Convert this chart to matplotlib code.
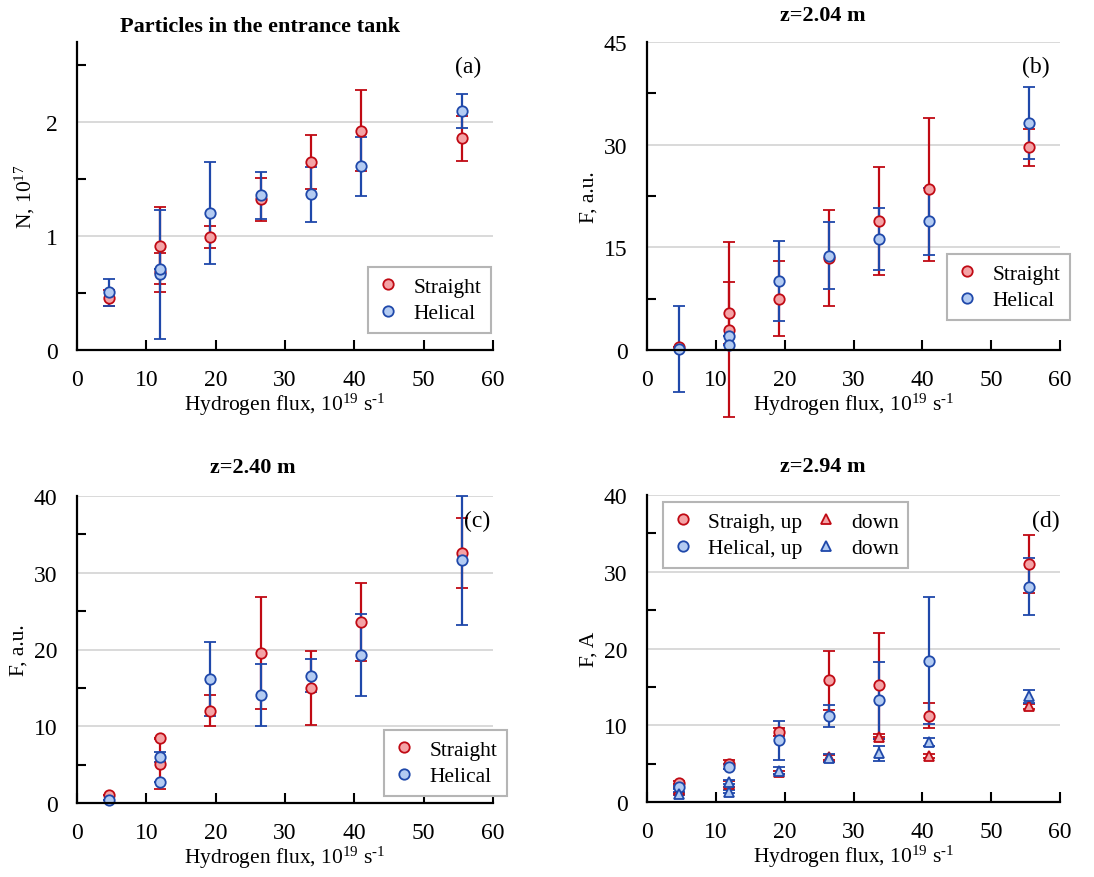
import matplotlib.pyplot as plt
from matplotlib.lines import Line2D
from matplotlib.ticker import MultipleLocator

plt.rcParams["font.family"] = ["Liberation Serif", "DejaVu Serif"]
plt.rcParams["mathtext.fontset"] = "custom"
plt.rcParams["mathtext.rm"] = "Liberation Serif"
plt.rcParams["mathtext.it"] = "Liberation Serif:italic"

# (a) particles in the entrance tank, 1e17
a_flux = [4.6, 11.9, 11.9, 19.2, 26.5, 33.7, 41.0, 55.5]
a_straight = [0.455, 0.915, 0.68, 0.99, 1.32, 1.65, 1.92, 1.855]
a_straight_err = [0.07, 0.335, 0.17, 0.10, 0.19, 0.235, 0.355, 0.20]
a_helical = [0.505, 0.665, 0.71, 1.20, 1.355, 1.365, 1.61, 2.095]
a_helical_err = [0.12, 0.565, 0.0, 0.45, 0.205, 0.24, 0.26, 0.15]

# (b) z = 2.04 m
b_flux = [4.6, 11.9, 11.9, 19.2, 26.5, 33.7, 41.0, 55.5]
b_straight = [0.4, 5.37, 2.95, 7.5, 13.45, 18.9, 23.45, 29.65]
b_straight_err = [0.0, 4.5, 12.8, 5.5, 7.05, 7.9, 10.4, 2.7]
b_helical = [0.15, 2.0, 0.8, 10.05, 13.8, 16.2, 18.8, 33.15]
b_helical_err = [6.35, 0.0, 0.0, 5.85, 4.95, 4.55, 4.9, 5.3]

# (c) z = 2.40 m
c_flux = [4.6, 11.9, 11.9, 19.2, 26.5, 33.7, 41.0, 55.5]
c_straight = [1.0, 8.45, 5.05, 12.05, 19.55, 15.0, 23.6, 32.55]
c_straight_err = [0.0, 0.0, 3.25, 2.05, 7.35, 4.8, 5.1, 4.6]
c_helical = [0.45, 6.0, 2.8, 16.15, 14.05, 16.55, 19.3, 31.65]
c_helical_err = [0.0, 0.6, 0.0, 4.8, 4.0, 2.15, 5.35, 8.4]

# (d) z = 2.94 m, up / down
d_flux = [4.6, 11.9, 19.2, 26.5, 33.7, 41.0, 55.5]
d_straight_up = [2.5, 4.9, 9.15, 15.85, 15.25, 11.25, 31.0]
d_straight_up_err = [0.2, 0.6, 0.5, 3.8, 6.8, 1.65, 3.8]
d_helical_up = [1.9, 4.6, 8.05, 11.2, 13.25, 18.4, 28.05]
d_helical_up_err = [0.2, 0.3, 2.55, 1.45, 5.0, 8.25, 3.7]
d_straight_down = [1.5, 2.3, 3.9, 5.8, 8.5, 6.0, 12.45]
d_straight_down_err = [0.3, 0.4, 0.2, 0.3, 0.3, 0.3, 0.3]
d_helical_down_flux = [4.6, 11.9, 11.9, 19.2, 26.5, 33.7, 41.0, 55.5]
d_helical_down = [1.1, 2.6, 1.35, 4.1, 5.7, 6.35, 7.85, 13.75]
d_helical_down_err = [0.2, 0.3, 0.2, 0.45, 0.5, 1.0, 0.5, 0.8]

RED, PINK = "#c00a14", "#f4a3a6"
BLUE, LIGHT = "#1f48aa", "#b3cbf2"
FS = 15.5
XLABEL = "Hydrogen flux, 10$^{\\mathrm{19}}$ s$^{\\mathrm{\u20101}}$"

W, H = 1094, 878
fig = plt.figure(figsize=(W / 100, H / 100), dpi=100)


def px(x, y):
    return x / W, 1 - y / H


def make_axes(left, top, right, bottom, ymax, major, minor):
    ax = fig.add_axes([left / W, 1 - bottom / H, (right - left) / W, (bottom - top) / H])
    ax.set_xlim(0, 60)
    ax.set_ylim(0, ymax)
    ax.xaxis.set_major_locator(MultipleLocator(10))
    ax.yaxis.set_major_locator(MultipleLocator(major))
    ax.yaxis.set_minor_locator(MultipleLocator(minor))
    ax.yaxis.set_minor_formatter(plt.NullFormatter())
    for side in ("top", "right"):
        ax.spines[side].set_visible(False)
    for side in ("left", "bottom"):
        ax.spines[side].set_linewidth(1.6)
    ax.tick_params(axis="x", direction="in", length=7, width=1.5, pad=14, labelsize=17)
    ax.tick_params(axis="y", which="major", length=0, pad=14, labelsize=17)
    ax.tick_params(axis="y", which="minor", direction="in", length=6.5, width=1.5)
    ax.grid(axis="y", color="#d3d3d3", linewidth=1.2)
    ax.set_axisbelow(True)
    ax.set_xlabel(XLABEL, fontsize=FS, labelpad=0)
    return ax


def points(ax, x, y, err, edge, face, marker="o", ms=7.5):
    cont = ax.errorbar(x, y, yerr=err, fmt=marker, ms=ms, mec=edge, mfc=face, mew=1.3,
                       ecolor=edge, elinewidth=1.6, capsize=4.5, capthick=1.6)
    for artist in cont.get_children():
        artist.set_clip_on(False)


def legend(ax, handles, labels, x, y, ncol=1):
    leg = ax.legend(handles, labels, loc="upper left", bbox_to_anchor=px(x, y),
                    bbox_transform=fig.transFigure, ncol=ncol, fontsize=FS,
                    fancybox=False, framealpha=1, edgecolor="#b5b5b5",
                    borderaxespad=0, handlelength=1.0, handletextpad=0.65,
                    labelspacing=0.3, columnspacing=0.6, borderpad=0.45)
    leg.get_frame().set_linewidth(1.5)


def circle(edge, face):
    return Line2D([], [], ls="none", marker="o", ms=7.5, mec=edge, mfc=face, mew=1.3)


def triangle(edge, face):
    return Line2D([], [], ls="none", marker="^", ms=6.5, mec=edge, mfc=face, mew=1.3)


def panel_tag(x, y, text):
    fig.text(*px(x, y), text, fontsize=17, ha="center", va="center")


# (a)
ax = make_axes(77, 43, 493, 351, 2.7, 1, 0.5)
points(ax, a_flux, a_straight, a_straight_err, RED, PINK)
points(ax, a_flux, a_helical, a_helical_err, BLUE, LIGHT)
ax.set_ylabel("N, 10$^{\\mathrm{17}}$", fontsize=FS, labelpad=6)
legend(ax, [circle(RED, PINK), circle(BLUE, LIGHT)], ["Straight", "Helical"], 368, 268)
fig.text(*px(260, 27), "Particles in the entrance tank", fontsize=16, fontweight="bold",
         ha="center", va="center")
panel_tag(468, 67, "(a)")

# (b)
ax = make_axes(647, 43, 1060, 351, 45, 15, 7.5)
points(ax, b_flux, b_straight, b_straight_err, RED, PINK)
points(ax, b_flux, b_helical, b_helical_err, BLUE, LIGHT)
ax.set_ylabel("F, a.u.", fontsize=FS, labelpad=4)
legend(ax, [circle(RED, PINK), circle(BLUE, LIGHT)], ["Straight", "Helical"], 947, 255)
fig.text(*px(823, 16), "z=2.04 m", fontsize=16, fontweight="bold", ha="center", va="center")
panel_tag(1036, 67, "(b)")

# (c)
ax = make_axes(77, 497, 493, 804, 40, 10, 5)
points(ax, c_flux, c_straight, c_straight_err, RED, PINK)
points(ax, c_flux, c_helical, c_helical_err, BLUE, LIGHT)
ax.set_ylabel("F, a.u.", fontsize=FS, labelpad=4)
legend(ax, [circle(RED, PINK), circle(BLUE, LIGHT)], ["Straight", "Helical"], 384, 731)
fig.text(*px(253, 468), "z=2.40 m", fontsize=16, fontweight="bold", ha="center", va="center")
panel_tag(477, 521, "(c)")

# (d)
ax = make_axes(647, 496, 1060, 803, 40, 10, 5)
points(ax, d_flux, d_straight_up, d_straight_up_err, RED, PINK)
points(ax, d_flux, d_straight_down, d_straight_down_err, RED, PINK, marker="^", ms=6.5)
points(ax, d_flux, d_helical_up, d_helical_up_err, BLUE, LIGHT)
points(ax, d_helical_down_flux, d_helical_down, d_helical_down_err, BLUE, LIGHT,
       marker="^", ms=6.5)
ax.set_ylabel("F, A", fontsize=FS, labelpad=4)
legend(ax, [circle(RED, PINK), circle(BLUE, LIGHT), triangle(RED, PINK), triangle(BLUE, LIGHT)],
       ["Straigh, up", "Helical, up", "down", "down"], 663, 503, ncol=2)
fig.text(*px(823, 467), "z=2.94 m", fontsize=16, fontweight="bold", ha="center", va="center")
panel_tag(1046, 521, "(d)")

fig.savefig("out.png", dpi=100)
